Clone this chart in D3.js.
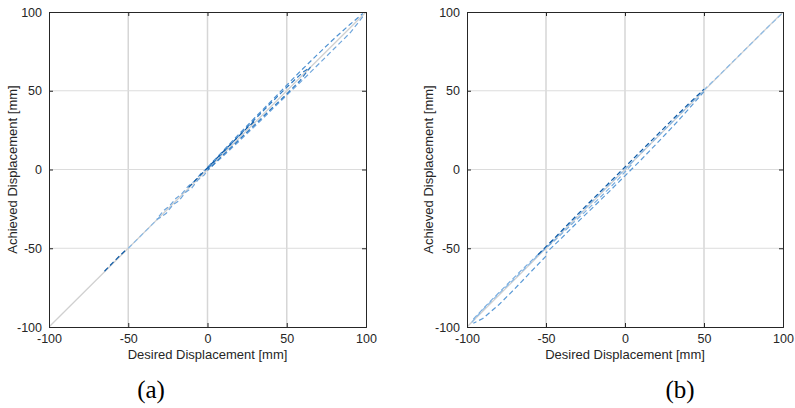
<!DOCTYPE html>
<html><head><meta charset="utf-8">
<script src="https://cdn.jsdelivr.net/npm/d3@7"></script>
<style>body{margin:0;background:#fff}svg{display:block}</style>
</head><body>
<script>
// ---- data ----
const tickValues = [-100, -50, 0, 50, 100];
const xLabel = "Desired Displacement [mm]";
const yLabel = "Achieved Displacement [mm]";
const captions = ["(a)", "(b)"];
const refDesired = [-100, 100];
const refAchieved = [-100, 100];

// panel (a)
const a1Desired  = [-65, -62, -58, -55, -52];
const a1Achieved = [-64.6, -61.5, -57.4, -54.4, -51.6];
const a2Desired  = [-50, -44, -38, -33, -30];
const a2Achieved = [-50, -44, -38, -33, -30];
const a3Desired  = [0, -4, -8, -12, -16, -20, -24, -28, -32, -30, -26, -22, -18, -14, -10, -6, -2, 0];
const a3Achieved = [1, -2.4, -7.2, -10.4, -15.2, -18.4, -23.2, -26.4, -31.6, -30.6, -27.8, -22.6, -19.8, -14.6, -11.8, -6.6, -3.4, -0.5];
const a4Desired  = [-12, -8, -4, 0, 4, 8, 12, 16, 20, 25, 30];
const a4Achieved = [-11.4, -7.2, -3, 1, 5.2, 9.4, 13.4, 17.5, 21.4, 26.4, 31];
const a5Desired  = [0, 10, 20, 30, 40, 50, 60, 65, 58, 48, 38, 28, 18, 8, 0];
const a5Achieved = [0.5, 11, 21.6, 32, 42.2, 52.2, 61.6, 65, 56, 46, 36.4, 26.6, 17, 7.4, -0.6];
const a6Desired  = [0, 10, 20, 30, 40, 50, 60, 70, 80, 90, 98];
const a6Achieved = [1.4, 12, 22.6, 33, 43.2, 53.6, 63.8, 73.6, 83.2, 92.2, 99];
const a7Desired  = [98, 90, 80, 70, 60, 50, 40, 30, 20, 10, 0];
const a7Achieved = [97, 86.8, 76.8, 66.8, 56.8, 47.2, 37.4, 27.6, 18, 8.6, -0.4];

// panel (b)
const b1Desired  = [-55, -45, -35, -25, -15, -5, 0, 10, 20, 30, 40, 50];
const b1Achieved = [-54, -44, -33.6, -23.4, -13.4, -3.4, 1.6, 11.6, 21.6, 31.6, 41.4, 51];
const b2Desired  = [50, 40, 30, 20, 10, 0, -10, -20, -30, -40, -50];
const b2Achieved = [49.4, 38, 27, 16.4, 6, -4, -14, -23.8, -33.4, -43.4, -53];
const b3Desired  = [-97, -90, -80, -70, -60, -50, -40, -30, -20, -10, 0, 10, 20, 30, 40, 50, 60, 70, 80, 90, 100];
const b3Achieved = [-97, -89, -79, -69.4, -59.4, -49.4, -39.4, -29.4, -19.4, -9.4, 0.2, 10.2, 20.2, 30.2, 40.2, 50.6, 60.2, 70.2, 80.1, 90, 99.6];
const b4Desired  = [-50, -60, -70, -80, -90, -96];
const b4Achieved = [-55, -65.4, -76, -86, -94.6, -97.6];
const b5Desired  = [-96, -85, -75, -65, -55, -45, -35, -25, -15, -5, 5];
const b5Achieved = [-95, -83.4, -73.4, -63.4, -54, -45.6, -36, -26.6, -17, -7, 4];

const seriesA = [
  {d: a2Desired, a: a2Achieved, c: "#8dbbe6"},
  {d: a3Desired, a: a3Achieved, c: "#6fa6dc"},
  {d: a7Desired, a: a7Achieved, c: "#6fa6dc"},
  {d: a6Desired, a: a6Achieved, c: "#4f92d2"},
  {d: a5Desired, a: a5Achieved, c: "#2f7bc4"},
  {d: a4Desired, a: a4Achieved, c: "#0d5aa6"},
  {d: a1Desired, a: a1Achieved, c: "#0d5aa6"}
];
const seriesB = [
  {d: b3Desired, a: b3Achieved, c: "#8dbbe6"},
  {d: b4Desired, a: b4Achieved, c: "#5b9ad6"},
  {d: b5Desired, a: b5Achieved, c: "#7aaee0"},
  {d: b2Desired, a: b2Achieved, c: "#5b9ad6"},
  {d: b1Desired, a: b1Achieved, c: "#0d5aa6"}
];

// ---- drawing ----
const W = 795, H = 408;
const svg = d3.select("body").append("svg").attr("width", W).attr("height", H);
const panels = [
  {x0: 49, x1: 366, ylx: 12, cap: 151, series: seriesA},
  {x0: 467, x1: 783, ylx: 428, cap: 680, series: seriesB}
];
const y0 = 12, y1 = 327;
const ink = "#262626";
const sans = "Liberation Sans, Arial, sans-serif";

panels.forEach((p, i) => {
  const x = d3.scaleLinear().domain([-100, 100]).range([p.x0, p.x1]);
  const y = d3.scaleLinear().domain([-100, 100]).range([y1, y0]);
  const g = svg.append("g");
  const clipId = "clip" + i;
  g.append("clipPath").attr("id", clipId).append("rect")
    .attr("x", p.x0).attr("y", y0).attr("width", p.x1 - p.x0).attr("height", y1 - y0);

  // grid
  g.append("g").selectAll("line").data(tickValues.slice(1, -1)).join("line")
    .attr("x1", d => x(d)).attr("x2", d => x(d)).attr("y1", y0).attr("y2", y1)
    .attr("stroke", "#d6d6d6").attr("stroke-width", 1.5);
  g.append("g").selectAll("line").data(tickValues.slice(1, -1)).join("line")
    .attr("y1", d => y(d)).attr("y2", d => y(d)).attr("x1", p.x0).attr("x2", p.x1)
    .attr("stroke", "#dcdcdc").attr("stroke-width", 1);

  const plot = g.append("g").attr("clip-path", `url(#${clipId})`);
  const line = d3.line().x(d => x(d[0])).y(d => y(d[1]));
  // reference diagonal
  plot.append("path").datum(d3.zip(refDesired, refAchieved)).attr("d", line)
    .attr("fill", "none").attr("stroke", "#d0d0d0").attr("stroke-width", 1.3);
  p.series.forEach(s => {
    plot.append("path").datum(d3.zip(s.d, s.a)).attr("d", line)
      .attr("fill", "none").attr("stroke", s.c).attr("stroke-width", 1.2)
      .attr("stroke-dasharray", "5,3");
  });

  // axes with inward ticks (box)
  const fmt = d => String(d);
  const axB = g.append("g").attr("transform", `translate(0,${y1})`)
    .call(d3.axisBottom(x).tickValues(tickValues).tickSize(-4).tickPadding(7).tickFormat(fmt));
  const axL = g.append("g").attr("transform", `translate(${p.x0},0)`)
    .call(d3.axisLeft(y).tickValues(tickValues).tickSize(-4).tickPadding(7).tickFormat(fmt));
  const axT = g.append("g").attr("transform", `translate(0,${y0})`)
    .call(d3.axisTop(x).tickValues(tickValues).tickSize(-4).tickFormat(""));
  const axR = g.append("g").attr("transform", `translate(${p.x1},0)`)
    .call(d3.axisRight(y).tickValues(tickValues).tickSize(-4).tickFormat(""));
  [axB, axL, axT, axR].forEach(a => {
    a.select(".domain").attr("stroke", ink).attr("stroke-width", 1);
    a.selectAll(".tick line").attr("stroke", ink);
    a.selectAll("text").attr("fill", ink).attr("font-family", sans).attr("font-size", 12.5);
  });

  // labels
  g.append("text").attr("x", (p.x0 + p.x1) / 2).attr("y", 359)
    .attr("text-anchor", "middle").attr("fill", ink)
    .attr("font-family", sans).attr("font-size", 13)
    .text(xLabel);
  g.append("text").attr("transform", `translate(${p.ylx},${(y0 + y1) / 2}) rotate(-90)`)
    .attr("text-anchor", "middle").attr("dominant-baseline", "central").attr("fill", ink)
    .attr("font-family", sans).attr("font-size", 13)
    .text(yLabel);
  g.append("text").attr("x", p.cap).attr("y", 398).attr("text-anchor", "middle")
    .attr("fill", "#000").attr("font-family", "Liberation Serif, Times New Roman, serif").attr("font-size", 25)
    .text(captions[i]);
});
</script>
</body></html>
